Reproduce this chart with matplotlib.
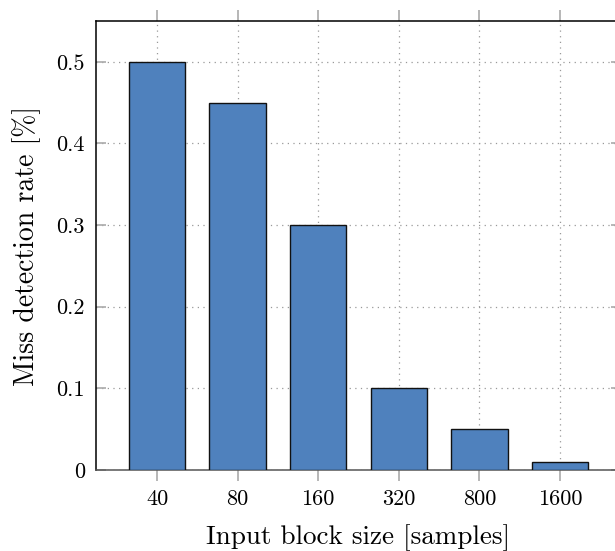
import numpy as np
import matplotlib
matplotlib.use("Agg")
import matplotlib.pyplot as plt

# data
block_sizes = ["40", "80", "160", "320", "800", "1600"]
miss_rate = [0.5, 0.45, 0.3, 0.1, 0.05, 0.01]
y_ticks = [0, 0.1, 0.2, 0.3, 0.4, 0.5]
y_labels = ["0", "0.1", "0.2", "0.3", "0.4", "0.5"]

plt.rcParams["font.family"] = ["cmr10", "DejaVu Serif"]
plt.rcParams["mathtext.fontset"] = "cm"
plt.rcParams["axes.formatter.use_mathtext"] = True

fig = plt.figure(figsize=(6.15, 5.51), dpi=100)
ax = fig.add_axes([96/615, 81/551, 525/615, 449/551])

x = np.arange(len(block_sizes))
ax.bar(x, miss_rate, width=0.7, color="#4f81bd", edgecolor="#111111", linewidth=1.0, zorder=3)

ax.set_xlim(-0.757, len(block_sizes) - 1 + 0.757)
ax.set_ylim(0, 0.55)
ax.set_xticks(x)
ax.set_xticklabels(block_sizes)
ax.set_yticks(y_ticks)
ax.set_yticklabels(y_labels)

ax.set_axisbelow(True)
ax.grid(True, ls=(0, (1, 3.5)), color="#999999", lw=0.9)

ax.tick_params(axis="x", direction="out", top=True, length=8, width=1.2,
               color="#aaaaaa", labelsize=16, pad=6)
ax.tick_params(axis="y", direction="in", right=True, length=7, width=1.2,
               color="#aaaaaa", labelsize=16, pad=8)

for side in ("left", "top", "right"):
    ax.spines[side].set_linewidth(1.1)
    ax.spines[side].set_color("black")
ax.spines["bottom"].set_color("#555555")
ax.spines["bottom"].set_linewidth(1.1)

ax.set_xlabel("Input block size [samples]", fontsize=19.5, labelpad=11)
ax.set_ylabel("Miss detection rate [%]", fontsize=20, labelpad=11)

fig.savefig("out.png", dpi=100)
